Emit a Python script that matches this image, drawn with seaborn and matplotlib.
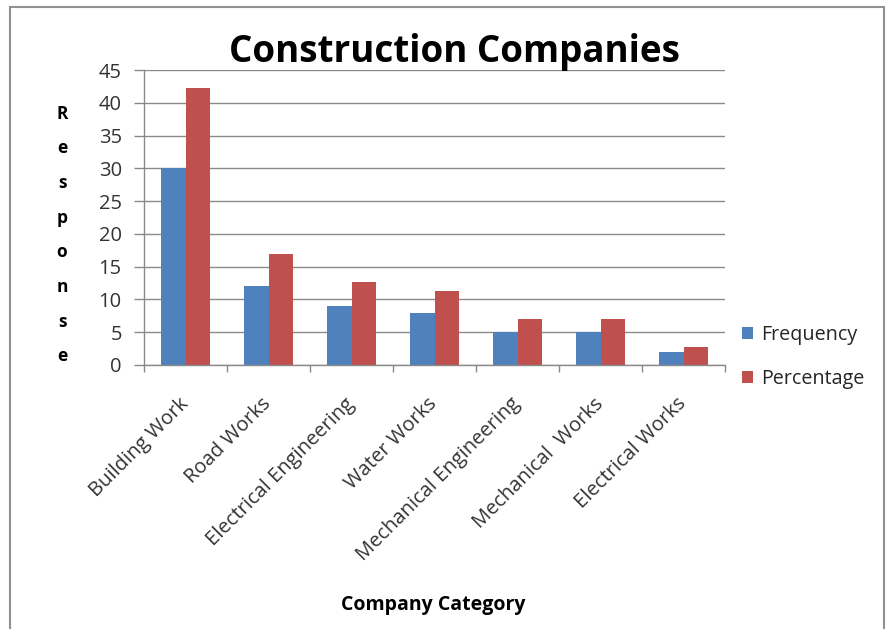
import matplotlib
matplotlib.use("Agg")
import matplotlib.pyplot as plt
import seaborn as sns
import pandas as pd
import numpy as np
from matplotlib.patches import Rectangle

categories = ["Building Work", "Road Works", "Electrical Engineering", "Water Works",
              "Mechanical Engineering", "Mechanical  Works", "Electrical Works"]
frequency = [30, 12, 9, 8, 5, 5, 2]
percentage = [42.3, 16.9, 12.7, 11.3, 7.0, 7.0, 2.8]
series = ["Frequency", "Percentage"]
colors = ["#4F81BD", "#C0504D"]
yticks = [0, 5, 10, 15, 20, 25, 30, 35, 40, 45]

df = pd.DataFrame({
    "Category": categories * 2,
    "Series": [series[0]] * len(categories) + [series[1]] * len(categories),
    "Value": frequency + percentage,
})

sns.set_theme(style="white")
plt.rcParams["font.family"] = ["Open Sans", "DejaVu Sans"]

W, H = 889, 629
fig = plt.figure(figsize=(W / 100, H / 100), dpi=100)
fig.patch.set_facecolor("white")
ax = fig.add_axes([144 / W, 1 - 365 / H, (725 - 144) / W, (365 - 70) / H])

sns.barplot(data=df, x="Category", y="Value", hue="Series", hue_order=series,
            palette=colors, width=0.58, saturation=1, ax=ax, legend=True,
            linewidth=0, edgecolor="none")

ax.set_xlim(-0.5, len(categories) - 0.5)
ax.set_ylim(0, 45)
ax.set_yticks(yticks)
ax.set_yticklabels([str(v) for v in yticks], fontsize=14.5, color="#333333")
ax.yaxis.grid(True, color="#8a8a8a", lw=1)
ax.set_axisbelow(True)
for s in ["top", "right"]:
    ax.spines[s].set_visible(False)
for s in ["left", "bottom"]:
    ax.spines[s].set_color("#8a8a8a")
    ax.spines[s].set_linewidth(1)
ax.tick_params(axis="y", which="major", length=7, color="#8a8a8a", width=1, pad=9, left=True)
ax.set_xticks(np.arange(len(categories)))
ax.set_xticklabels(categories, rotation=45, ha="right", va="center", rotation_mode="anchor",
                   fontsize=14.5, color="#333333")
ax.tick_params(axis="x", which="major", length=0, pad=26)
ax.set_xticks(np.arange(-0.5, len(categories), 1), minor=True)
ax.tick_params(axis="x", which="minor", length=5, color="#8a8a8a", bottom=True)
ax.set_xlabel("")
ax.set_ylabel("")

ax.legend(loc="center left", bbox_to_anchor=(724 / W, 1 - 357 / H),
          bbox_transform=fig.transFigure, frameon=False, fontsize=14.2,
          handlelength=0.55, handleheight=0.55, handletextpad=0.45, labelspacing=1.2)

fig.text(454 / W, 1 - 52 / H, "Construction Companies", ha="center", va="center",
         fontsize=26.5, fontweight="bold", color="black")
fig.text(62 / W, 1 - 235 / H, "R\ne\ns\np\no\nn\ns\ne", ha="center", va="center",
         fontsize=12.5, fontweight="bold", linespacing=2.19, color="black")
fig.text(433 / W, 1 - 605 / H, "Company Category", ha="center", va="center",
         fontsize=14, fontweight="bold", color="black")

fig.patches.append(Rectangle((10 / W, -0.1), (884 - 10) / W, 1.1 - 7 / H,
                             transform=fig.transFigure, fill=False,
                             edgecolor="#909090", lw=1.5))

fig.savefig("out.png", dpi=100)
